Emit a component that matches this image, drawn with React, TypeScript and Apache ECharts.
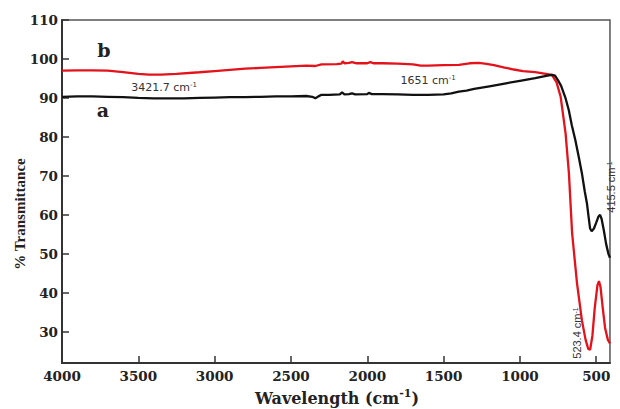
import React, { useEffect, useRef } from "react";
import * as echarts from "echarts";

// Sample a (black)
const wavenumbersA = [4000, 3900, 3800, 3700, 3600, 3500, 3400, 3300, 3200, 3100, 3000, 2900, 2800, 2700, 2600, 2500, 2400, 2360, 2340, 2320, 2300, 2250, 2180, 2165, 2150, 2120, 2100, 2080, 2000, 1990, 1970, 1900, 1800, 1700, 1600, 1500, 1450, 1400, 1350, 1300, 1200, 1100, 1000, 900, 820, 790, 770, 750, 730, 700, 680, 660, 637, 615, 594, 575, 561, 550, 540, 530, 515, 500, 485, 475, 465, 450, 435, 420, 410];
const transmittanceA = [90.3, 90.4, 90.4, 90.3, 90.2, 90.0, 89.9, 89.9, 89.9, 90.0, 90.1, 90.2, 90.2, 90.3, 90.4, 90.4, 90.5, 90.3, 89.9, 90.4, 90.8, 90.8, 90.9, 91.4, 90.9, 91.0, 91.2, 90.9, 91.0, 91.3, 91.0, 91.0, 90.9, 90.8, 90.8, 90.9, 91.2, 91.6, 91.9, 92.3, 93.0, 93.7, 94.4, 95.1, 95.7, 95.9, 95.7, 94.5, 93.1, 89.8, 86.9, 83.0, 79.2, 75.0, 70.7, 66.0, 63.0, 59.5, 56.5, 55.8, 56.5, 58.0, 59.6, 60.0, 59.0, 56.0, 52.5, 50.0, 49.0];

// Sample b (red)
const wavenumbersB = [4000, 3900, 3800, 3700, 3600, 3500, 3430, 3350, 3250, 3100, 3000, 2900, 2800, 2700, 2600, 2500, 2400, 2340, 2300, 2200, 2170, 2160, 2150, 2120, 2100, 2070, 2000, 1980, 1960, 1900, 1800, 1700, 1650, 1600, 1500, 1400, 1330, 1270, 1230, 1170, 1100, 1040, 980, 900, 830, 790, 760, 733, 701, 679, 658, 626, 594, 570, 552, 540, 525, 510, 492, 482, 472, 457, 442, 424, 410];
const transmittanceB = [97.0, 97.1, 97.1, 97.0, 96.6, 96.2, 96.0, 96.0, 96.2, 96.6, 96.9, 97.2, 97.5, 97.7, 97.9, 98.1, 98.3, 98.2, 98.6, 98.7, 98.8, 99.4, 98.9, 99.0, 99.2, 98.9, 98.9, 99.2, 98.9, 98.9, 98.8, 98.6, 98.3, 98.3, 98.4, 98.5, 98.9, 99.0, 98.8, 98.4, 97.8, 97.3, 96.9, 96.6, 96.2, 95.9, 94.0, 90.3, 81.0, 70.7, 55.3, 42.5, 33.0, 28.0, 25.6, 25.4, 29.0, 36.0, 42.0, 43.0, 41.5, 36.0, 31.0, 28.0, 27.0];

const xTicks = [500, 1000, 1500, 2000, 2500, 3000, 3500, 4000];
const yTicks = [30, 40, 50, 60, 70, 80, 90, 100, 110];

const seriesNames = ["a", "b"];
const peakLabels = ["3421.7 cm", "1651 cm", "415.5 cm", "523.4 cm"];

export default function App() {
  const ref = useRef<HTMLDivElement>(null);
  useEffect(() => {
    if (!ref.current) return;
    const chart = echarts.init(ref.current, null, { renderer: "svg" });
    const dataA = wavenumbersA.map((w, i) => [w, transmittanceA[i]]);
    const dataB = wavenumbersB.map((w, i) => [w, transmittanceB[i]]);
    const tickFont = { fontFamily: "DejaVu Serif", fontWeight: "bold" as const, fontSize: 13.5, color: "#222" };
    const annStyle = (text: string, family: string) => ({
      text: text + "{s|-1}",
      fontFamily: family,
      fontSize: 11,
      fill: "#333",
      align: "center",
      verticalAlign: "middle",
      rich: { s: { fontFamily: family, fontSize: 7, fill: "#333", verticalAlign: "top", lineHeight: 9 } },
    });
    chart.setOption({
      animation: false,
      grid: { left: 62, right: 3, top: 20, bottom: 46, show: true, borderColor: "#555", borderWidth: 1.5 },
      xAxis: {
        type: "value",
        inverse: true,
        min: 410,
        max: 4000,
        axisLine: { show: true, onZero: false, lineStyle: { color: "#333", width: 2 } },
        axisTick: { show: true, inside: true, length: 7, customValues: xTicks, lineStyle: { color: "#333", width: 1.5 } },
        axisLabel: { ...tickFont, margin: 6, customValues: xTicks, formatter: (v: number) => String(v) },
        splitLine: { show: false },
      },
      yAxis: {
        type: "value",
        min: 22,
        max: 110,
        axisLine: { show: true, onZero: false, lineStyle: { color: "#333", width: 2 } },
        axisTick: { show: true, inside: true, length: 7, customValues: yTicks, lineStyle: { color: "#333", width: 1.5 } },
        axisLabel: { ...tickFont, margin: 4, customValues: yTicks, formatter: (v: number) => String(v) },
        splitLine: { show: false },
      },
      series: [
        { name: seriesNames[1], type: "line", data: dataB, showSymbol: false, lineStyle: { color: "#e3121b", width: 2.3 }, z: 2 },
        { name: seriesNames[0], type: "line", data: dataA, showSymbol: false, lineStyle: { color: "#111", width: 2.3 }, z: 3 },
      ],
      graphic: [
        { type: "text", x: 20, y: 214, rotation: Math.PI / 2, style: { text: "% Transmittance", font: 'bold 15px "Liberation Serif"', fill: "#222", align: "center", verticalAlign: "middle" } },
        {
          type: "text",
          x: 337,
          y: 398,
          style: {
            text: "{t|Wavelength (cm}{s|-1}{t|)}",
            align: "center",
            verticalAlign: "middle",
            rich: {
              t: { fontFamily: "DejaVu Serif", fontWeight: "bold", fontSize: 16, fill: "#222", lineHeight: 20 },
              s: { fontFamily: "DejaVu Serif", fontWeight: "bold", fontSize: 11, fill: "#222", lineHeight: 12, verticalAlign: "top" },
            },
          },
        },
        { type: "text", x: 104, y: 50, style: { text: seriesNames[1], font: 'bold 19px "DejaVu Serif"', fill: "#222", align: "center", verticalAlign: "middle" } },
        { type: "text", x: 103, y: 110, style: { text: seriesNames[0], font: 'bold 19px "DejaVu Serif"', fill: "#222", align: "center", verticalAlign: "middle" } },
        { type: "text", x: 164, y: 87, style: annStyle(peakLabels[0], "DejaVu Sans") },
        { type: "text", x: 428, y: 80, style: annStyle(peakLabels[1], "DejaVu Sans") },
        { type: "text", x: 611, y: 187, rotation: Math.PI / 2, style: annStyle(peakLabels[2], "Liberation Sans") },
        { type: "text", x: 577, y: 333, rotation: Math.PI / 2, style: annStyle(peakLabels[3], "Liberation Sans") },
      ],
    });
    return () => chart.dispose();
  }, []);
  return <div ref={ref} style={{ position: "fixed", left: 0, top: 0, width: 620, height: 409, background: "#fff" }} />;
}
